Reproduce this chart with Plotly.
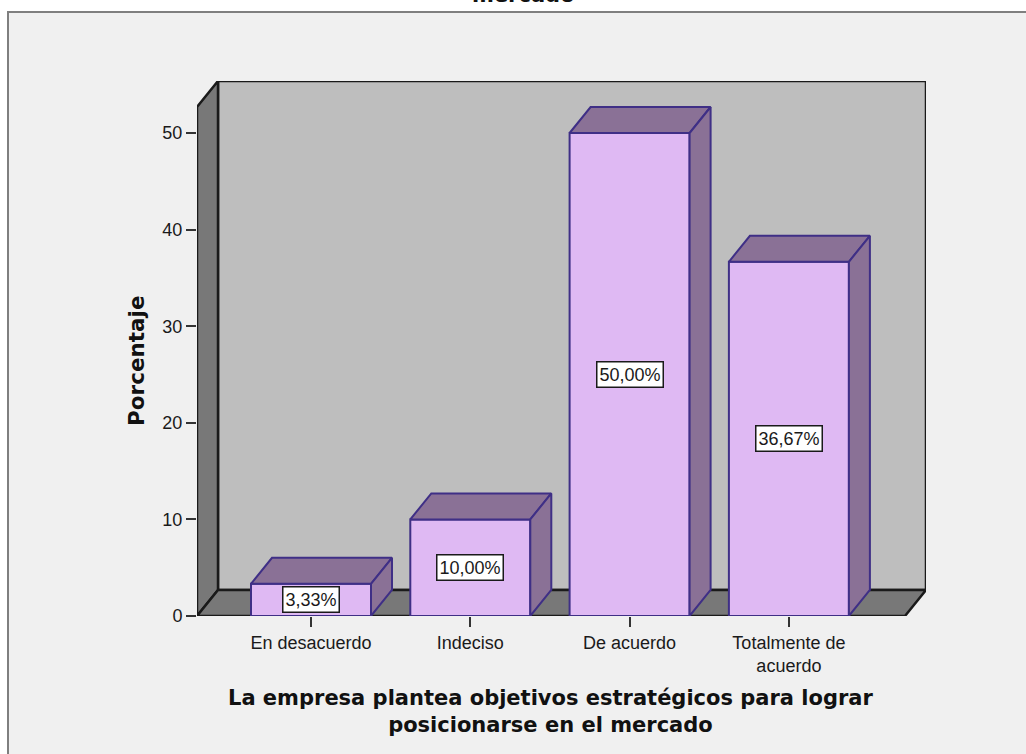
import numpy as np
import plotly.graph_objects as go

categories = ["En desacuerdo", "Indeciso", "De acuerdo", "Totalmente de<br>acuerdo"]
values = [3.33, 10.00, 50.00, 36.67]
labels = ["3,33%", "10,00%", "50,00%", "36,67%"]
y_ticks = [0, 10, 20, 30, 40, 50]
x_title = "La empresa plantea objetivos estratégicos para lograr<br>posicionarse en el mercado"
y_title = "Porcentaje"
cropped_title = "mercado"

W, H = 1026, 754
L, R, T, B = 197, 926, 81, 616
UX, UY = 159.3, 9.66
C0 = 311
BAR_W = 120 / UX
DX, DY = 21 / UX, 26 / UY
x0 = (L - C0) / UX
x1 = (R - C0) / UX
y1 = (B - T) / UY
FONT = "Liberation Sans"
BOLD = "DejaVu Sans"
INK = "#1A1A1A"
FRONT, SHADE, EDGE = "#DFB9F3", "#8A7196", "#3F2F86"
WALL, DARK = "#BEBEBE", "#787878"


def path(pts):
    return "M" + "L".join(f"{a},{b}" for a, b in pts) + "Z"


def px(v):
    return (v - L) / (R - L)


def py(v):
    return (B - v) / (B - T)


xs = np.arange(len(categories))
fig = go.Figure()

fig.add_trace(go.Bar(x=xs, y=values, width=BAR_W, marker=dict(color=FRONT, line=dict(color=EDGE, width=2)),
                     cliponaxis=False, hoverinfo="skip", showlegend=False))
for xc, v in zip(xs, values):
    a, b = xc - BAR_W / 2, xc + BAR_W / 2
    faces = [[(a, v), (a + DX, v + DY), (b + DX, v + DY), (b, v), (a, v)],
             [(b, 0), (b + DX, DY), (b + DX, v + DY), (b, v), (b, 0)]]
    for f in faces:
        fig.add_trace(go.Scatter(x=[p[0] for p in f], y=[p[1] for p in f], mode="lines", fill="toself",
                                 fillcolor=SHADE, line=dict(color=EDGE, width=2), cliponaxis=False,
                                 hoverinfo="skip", showlegend=False))

shapes = [
    dict(type="rect", xref="paper", yref="paper", x0=px(8), x1=px(W + 20), y0=py(H + 20), y1=py(12),
         fillcolor="#F0F0F0", line=dict(color="#7F7F7F", width=2), layer="below"),
    dict(type="path", path=path([(x0 + DX, DY), (x1, DY), (x1, y1), (x0 + DX, y1)]), fillcolor=WALL,
         line=dict(color=INK, width=2.5), layer="below"),
    dict(type="path", path=path([(x0, 0), (x0 + DX, DY), (x0 + DX, y1), (x0, y1 - DY)]), fillcolor=DARK,
         line=dict(color=INK, width=2.5), layer="below"),
    dict(type="path", path=path([(x0, 0), (x0 + DX, DY), (x1, DY), (x1 - DX, 0)]), fillcolor=DARK,
         line=dict(color=INK, width=2.5), layer="below"),
]

annotations = [
    dict(x=xc, y=v / 2, text=t, showarrow=False, bgcolor="white", bordercolor=INK, borderwidth=1.5, borderpad=2,
         font=dict(family=FONT, size=18, color=INK))
    for xc, v, t in zip(xs, values, labels)
]
annotations += [
    dict(xref="paper", yref="paper", x=px(551), y=py(711), xanchor="center", yanchor="middle", text=f"<b>{x_title}</b>",
         showarrow=False, font=dict(family=BOLD, size=21, color="#111111"), align="center"),
    dict(xref="paper", yref="paper", x=px(136), y=py(361), xanchor="center", yanchor="middle", text=f"<b>{y_title}</b>",
         showarrow=False, textangle=-90, font=dict(family=BOLD, size=21.5, color="#111111")),
    dict(xref="paper", yref="paper", x=px(523), y=py(9), xanchor="center", yanchor="bottom",
         text=f"<b>{cropped_title}</b>", showarrow=False, font=dict(family=BOLD, size=21, color="#111111")),
]

fig.update_layout(
    width=W, height=H, margin=dict(l=L, r=W - R, t=T, b=H - B, pad=0, autoexpand=False),
    paper_bgcolor="white", plot_bgcolor="#F0F0F0", showlegend=False,
    shapes=shapes, annotations=annotations,
    font=dict(family=FONT, color=INK),
    xaxis=dict(range=[x0, x1], tickmode="array", tickvals=list(xs), ticktext=categories, showgrid=False, zeroline=False,
               ticks="outside", ticklen=10, tickwidth=2, tickcolor="#333333", tickfont=dict(size=18, family=FONT, color=INK), fixedrange=True),
    yaxis=dict(range=[0, y1], tickmode="array", tickvals=y_ticks, showgrid=False, zeroline=False,
               ticks="outside", ticklen=10, tickwidth=2, tickcolor="#333333", tickfont=dict(size=18, family=FONT, color=INK), fixedrange=True),
)

fig.write_html("out.html", post_script="document.body.style.margin='0';document.body.style.overflow='hidden';", config={"displayModeBar": False})
